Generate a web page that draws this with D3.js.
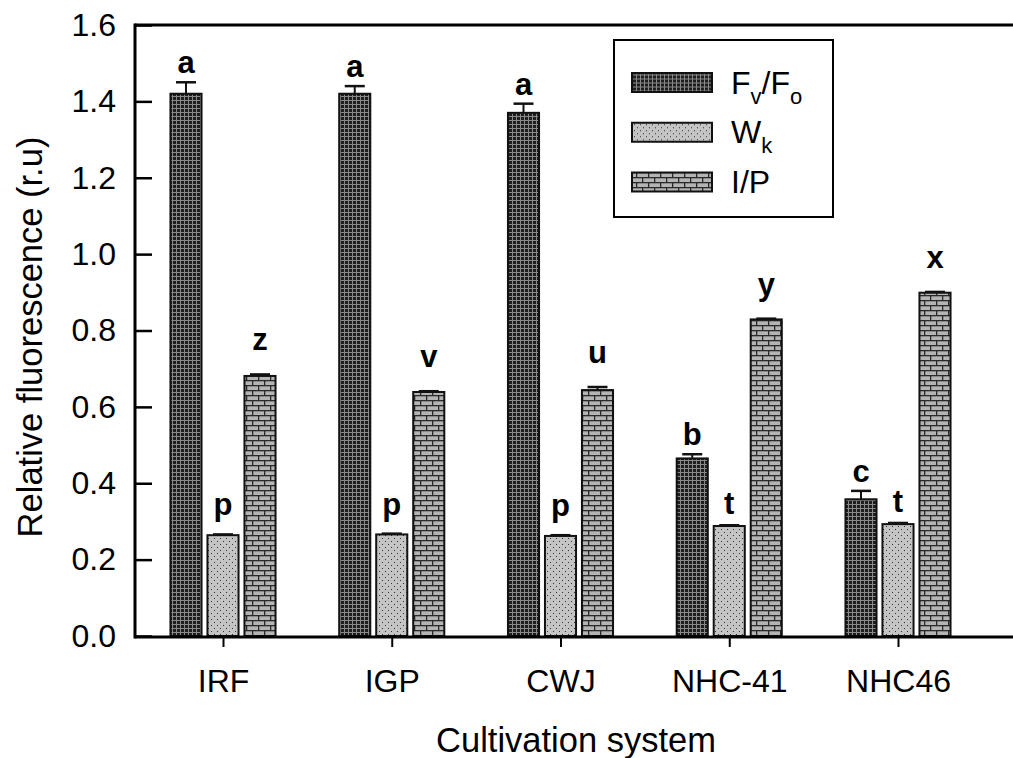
<!DOCTYPE html>
<html>
<head>
<meta charset="utf-8">
<script src="https://cdn.jsdelivr.net/npm/d3@7"></script>
<style>
  body { margin: 0; background: #fff; }
  svg { display: block; font-family: Arial, "Liberation Sans", sans-serif; }
</style>
</head>
<body>
<svg id="chart" width="1013" height="758"></svg>
<script>
// data
var categories = ["IRF", "IGP", "CWJ", "NHC-41", "NHC46"];
var seriesNames = ["fvfo", "wk", "ip"];
var fvfo = [1.42, 1.42, 1.37, 0.465, 0.358];
var fvfoErr = [0.03, 0.02, 0.024, 0.011, 0.022];
var wk = [0.264, 0.266, 0.262, 0.288, 0.293];
var wkErr = [0.002, 0.002, 0.002, 0.002, 0.003];
var ip = [0.681, 0.639, 0.644, 0.829, 0.899];
var ipErr = [0.004, 0.002, 0.008, 0.002, 0.002];
var fvfoLetters = ["a", "a", "a", "b", "c"];
var wkLetters = ["p", "p", "p", "t", "t"];
var ipLetters = ["z", "v", "u", "y", "x"];
var yTicks = [0, 0.2, 0.4, 0.6, 0.8, 1.0, 1.2, 1.4, 1.6];

var svg = d3.select("#chart");
var plot = {left: 135, right: 1013, top: 25, bottom: 637};
// gap (px) between error cap and letter baseline, per series
var letterGap = {fvfo: 9, wk: 11, ip: 24};

var x = d3.scalePoint().domain(categories).range([223, 898]);
var inner = d3.scaleBand().domain(seriesNames).range([-55.5, 55.5])
  .paddingInner(0.16).paddingOuter(0.08);
var y = d3.scaleLinear().domain([0, 1.6]).range([636, 25]);

// fill patterns
var defs = svg.append("defs");
var pCross = defs.append("pattern").attr("id", "pat-fvfo")
  .attr("patternUnits", "userSpaceOnUse").attr("width", 4).attr("height", 4);
pCross.append("rect").attr("width", 4).attr("height", 4).attr("fill", "#1e1e1e");
pCross.append("rect").attr("x", 0).attr("y", 0).attr("width", 4).attr("height", 1).attr("fill", "#8a8a8a");
pCross.append("rect").attr("x", 0).attr("y", 0).attr("width", 1).attr("height", 4).attr("fill", "#8a8a8a");

var pDot = defs.append("pattern").attr("id", "pat-wk")
  .attr("patternUnits", "userSpaceOnUse").attr("width", 6).attr("height", 6);
pDot.append("rect").attr("width", 6).attr("height", 6).attr("fill", "#c4c4c4");
pDot.append("rect").attr("x", 1).attr("y", 1).attr("width", 1).attr("height", 1).attr("fill", "#333");
pDot.append("rect").attr("x", 4).attr("y", 4).attr("width", 1).attr("height", 1).attr("fill", "#333");

var pBrick = defs.append("pattern").attr("id", "pat-ip")
  .attr("patternUnits", "userSpaceOnUse").attr("width", 12).attr("height", 10);
pBrick.append("rect").attr("width", 12).attr("height", 10).attr("fill", "#b4b4b4");
pBrick.append("rect").attr("x", 0).attr("y", 0).attr("width", 12).attr("height", 1.3).attr("fill", "#2a2a2a");
pBrick.append("rect").attr("x", 0).attr("y", 5).attr("width", 12).attr("height", 1.3).attr("fill", "#2a2a2a");
pBrick.append("rect").attr("x", 0).attr("y", 0).attr("width", 1.3).attr("height", 5).attr("fill", "#2a2a2a");
pBrick.append("rect").attr("x", 6).attr("y", 5).attr("width", 1.3).attr("height", 5).attr("fill", "#2a2a2a");

var series = [
  {key: "fvfo", values: fvfo, err: fvfoErr, letters: fvfoLetters},
  {key: "wk", values: wk, err: wkErr, letters: wkLetters},
  {key: "ip", values: ip, err: ipErr, letters: ipLetters}
];

// bars
var groups = svg.append("g").attr("class", "bars")
  .selectAll("g")
  .data(series)
  .join("g");

groups.selectAll("rect")
  .data(s => s.values.map((v, i) => ({key: s.key, cat: categories[i], v: v, e: s.err[i], l: s.letters[i]})))
  .join("rect")
  .attr("x", d => x(d.cat) + inner(d.key))
  .attr("y", d => y(d.v))
  .attr("width", inner.bandwidth())
  .attr("height", d => y(0) - y(d.v))
  .attr("fill", d => "url(#pat-" + d.key + ")")
  .attr("stroke", "#111")
  .attr("stroke-width", 2);

// error bars (upper only)
var eb = svg.append("g").attr("class", "errorbars")
  .selectAll("g")
  .data(series.flatMap(s => s.values.map((v, i) => ({key: s.key, cat: categories[i], v: v, e: s.err[i], l: s.letters[i]}))))
  .join("g")
  .attr("transform", d => "translate(" + (x(d.cat) + inner(d.key) + inner.bandwidth() / 2) + ",0)");

eb.append("line")
  .attr("x1", 0).attr("x2", 0)
  .attr("y1", d => y(d.v)).attr("y2", d => y(d.v + d.e))
  .attr("stroke", "#111").attr("stroke-width", 2);
eb.append("line")
  .attr("x1", -10).attr("x2", 10)
  .attr("y1", d => y(d.v + d.e)).attr("y2", d => y(d.v + d.e))
  .attr("stroke", "#111").attr("stroke-width", 2.5);

// significance letters
eb.append("text")
  .attr("x", 0)
  .attr("y", d => y(d.v + d.e) - letterGap[d.key] - (/[p]/.test(d.l) ? 8 : 0))
  .attr("text-anchor", "middle")
  .attr("font-size", 31)
  .attr("font-weight", "bold")
  .attr("fill", "#000")
  .text(d => d.l);

// y axis
var yAxis = d3.axisLeft(y)
  .tickValues(yTicks)
  .tickFormat(d3.format(".1f"))
  .tickSizeInner(-17)
  .tickSizeOuter(0)
  .tickPadding(19);

var gy = svg.append("g")
  .attr("transform", "translate(" + plot.left + ",0)")
  .call(yAxis);
gy.select(".domain").remove();
gy.selectAll(".tick line").attr("stroke", "#000").attr("stroke-width", 2.5);
gy.selectAll(".tick text").attr("font-size", 32).attr("fill", "#000")
  .attr("font-family", "Arial, 'Liberation Sans', sans-serif");

// x axis
var xAxis = d3.axisBottom(x).tickSize(10).tickSizeOuter(0);
var gx = svg.append("g")
  .attr("transform", "translate(0," + plot.bottom + ")")
  .call(xAxis);
gx.select(".domain").remove();
gx.selectAll(".tick line").attr("stroke", "#000").attr("stroke-width", 2);
gx.selectAll(".tick text")
  .attr("y", 55).attr("dy", 0)
  .attr("font-size", 32).attr("fill", "#000")
  .attr("font-family", "Arial, 'Liberation Sans', sans-serif");

// frame lines: left, bottom, top
svg.append("line").attr("x1", plot.left).attr("x2", plot.left)
  .attr("y1", plot.top - 1.5).attr("y2", plot.bottom + 1.5)
  .attr("stroke", "#000").attr("stroke-width", 3);
svg.append("line").attr("x1", plot.left).attr("x2", plot.right)
  .attr("y1", plot.bottom).attr("y2", plot.bottom)
  .attr("stroke", "#000").attr("stroke-width", 3);
svg.append("line").attr("x1", plot.left).attr("x2", plot.right)
  .attr("y1", plot.top).attr("y2", plot.top)
  .attr("stroke", "#000").attr("stroke-width", 3);

// axis titles
svg.append("text")
  .attr("x", 576).attr("y", 752)
  .attr("text-anchor", "middle")
  .attr("font-size", 34.5)
  .text("Cultivation system");

svg.append("text")
  .attr("transform", "translate(42,337) rotate(-90)")
  .attr("text-anchor", "middle")
  .attr("font-size", 34.5)
  .text("Relative fluorescence (r.u)");

// legend
var legend = svg.append("g").attr("class", "legend");
legend.append("rect")
  .attr("x", 614).attr("y", 40).attr("width", 219).attr("height", 177)
  .attr("fill", "#fff").attr("stroke", "#000").attr("stroke-width", 2);

var legendRows = [
  {key: "fvfo", main: ["F", "/F"], subs: ["v", "o"]},
  {key: "wk", main: ["W"], subs: ["k"]},
  {key: "ip", main: ["I/P"], subs: []}
];
var legendY = d3.scalePoint().domain(seriesNames).range([82.5, 182]);

var rows = legend.selectAll("g.row")
  .data(legendRows)
  .join("g")
  .attr("class", "row")
  .attr("transform", d => "translate(0," + legendY(d.key) + ")");

rows.append("rect")
  .attr("x", 632).attr("y", -9.5).attr("width", 80).attr("height", 19)
  .attr("fill", d => "url(#pat-" + d.key + ")")
  .attr("stroke", "#111").attr("stroke-width", 2);

rows.append("text")
  .attr("x", 731).attr("y", 11)
  .attr("font-size", 32)
  .each(function(d) {
    var t = d3.select(this);
    d.main.forEach((m, i) => {
      t.append("tspan").attr("dy", i > 0 ? -10 : 0).text(m);
      if (d.subs[i] !== undefined) {
        t.append("tspan").attr("font-size", 22).attr("dy", 10).text(d.subs[i]);
      }
    });
  });
</script>
</body>
</html>
